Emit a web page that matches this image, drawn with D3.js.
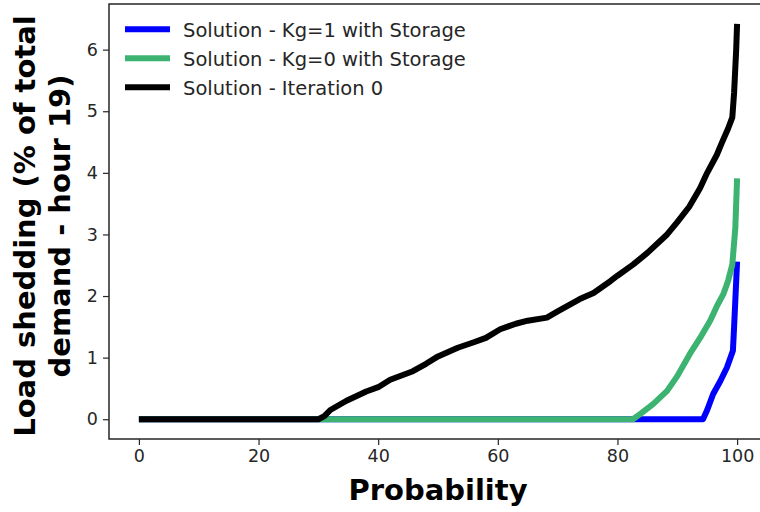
<!DOCTYPE html>
<html><head><meta charset="utf-8">
<script src="https://cdn.jsdelivr.net/npm/d3@7"></script>
<style>body{margin:0;background:#fff}svg{display:block}text{font-family:"DejaVu Sans",sans-serif}</style>
</head><body><svg id="c" width="760" height="512"></svg>
<script>
const seriesNames = ["Solution - Kg=1 with Storage","Solution - Kg=0 with Storage","Solution - Iteration 0"];
const seriesColors = ["#0000ff","#3cb371","#000000"];
const blueX = [0,94.3,95,96,97.2,98.3,99.3,99.5,99.7,100];
const blueY = [0,0,0.15,0.41,0.62,0.84,1.11,1.5,1.92,2.56];
const greenX = [0,82.6,84,86,88.3,90,92.1,94,95.5,96.7,97.7,98.5,99.2,99.7,100];
const greenY = [0,0,0.1,0.25,0.46,0.7,1.06,1.35,1.6,1.85,2.03,2.25,2.51,3.1,3.91];
const blackX = [0,30,31,32,34.7,38,40,42,45.8,48,50,53.3,56,58,60.4,63,65,68.2,70,73.7,76,78.8,80,82.6,85,88.3,90,92,93.8,95,96.6,97.5,98.5,99.2,99.5,99.7,99.85,100];
const blackY = [0,0,0.05,0.15,0.30,0.45,0.52,0.64,0.78,0.90,1.02,1.16,1.25,1.32,1.46,1.55,1.6,1.65,1.75,1.95,2.05,2.24,2.33,2.51,2.7,3.0,3.2,3.45,3.75,4.0,4.29,4.5,4.72,4.9,5.3,5.7,6.0,6.42];
const xTicks = [0,20,40,60,80,100];
const yTicks = [0,1,2,3,4,5,6];

const svg = d3.select("#c");
const L = 109, R = 767, T = 4, B = 439;
const x = d3.scaleLinear().domain([-5,105]).range([L,R]);
const y = d3.scaleLinear().domain([-0.321,6.741]).range([B,T]);
const axisColor = "#262626";

const series = [[blueX,blueY],[greenX,greenY],[blackX,blackY]];
const line = d3.line().x(d=>x(d[0])).y(d=>y(d[1]));
series.forEach((s,i)=>{
  const pts = s[0].map((v,j)=>[v,s[1][j]]);
  svg.append("path").datum(pts).attr("d",line).attr("fill","none")
    .attr("stroke",seriesColors[i]).attr("stroke-width",6).attr("stroke-linejoin","round");
});

svg.append("rect").attr("x",L).attr("y",T).attr("width",R-L).attr("height",B-T)
  .attr("fill","none").attr("stroke",axisColor).attr("stroke-width",1.5);

const gx = svg.append("g").attr("transform",`translate(0,${B})`)
  .call(d3.axisBottom(x).tickValues(xTicks).tickSize(6).tickPadding(5).tickFormat(d3.format("d")));
const gy = svg.append("g").attr("transform",`translate(${L},0)`)
  .call(d3.axisLeft(y).tickValues(yTicks).tickSize(6).tickPadding(5).tickFormat(d3.format("d")));
[gx,gy].forEach(g=>{
  g.select(".domain").remove();
  g.selectAll("line").attr("stroke",axisColor).attr("stroke-width",1.2);
  g.selectAll("text").attr("fill",axisColor).style("font-size","17.5px").style("font-family","DejaVu Sans");
});

svg.append("text").attr("x",438).attr("y",500).attr("text-anchor","middle")
  .style("font-size","29px").style("font-weight","bold").text("Probability");
const yl = svg.append("text").attr("transform","translate(0,226) rotate(-90)").attr("text-anchor","middle")
  .style("font-size","29px").style("font-weight","bold");
yl.append("tspan").attr("x",0).attr("y",35).text("Load shedding (% of total");
yl.append("tspan").attr("x",0).attr("y",70).text("demand - hour 19)");

const lg = svg.append("g");
seriesNames.forEach((n,i)=>{
  const yy = 29.3 + i*29;
  lg.append("line").attr("x1",125).attr("x2",170).attr("y1",yy).attr("y2",yy)
    .attr("stroke",seriesColors[i]).attr("stroke-width",6);
  lg.append("text").attr("x",183).attr("y",yy+7.3).style("font-size","19.5px").attr("fill","#262626").text(n);
});
</script></body></html>
